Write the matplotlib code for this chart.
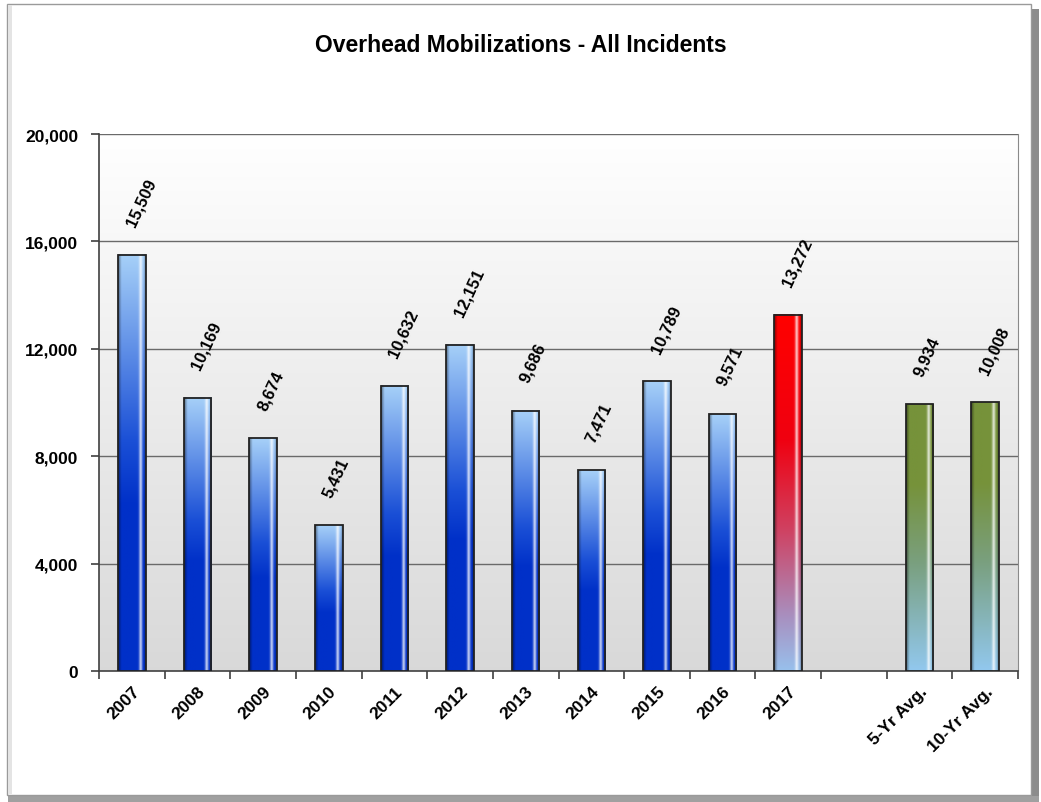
import numpy as np
import matplotlib
matplotlib.use("Agg")
import matplotlib.pyplot as plt
from matplotlib.patches import Rectangle
from matplotlib.colors import to_rgb

plt.rcParams['font.family'] = ['Liberation Sans', 'DejaVu Sans']

categories = ['2007', '2008', '2009', '2010', '2011', '2012', '2013', '2014',
              '2015', '2016', '2017', '', '5-Yr Avg.', '10-Yr Avg.']
values = [15509, 10169, 8674, 5431, 10632, 12151, 9686, 7471,
          10789, 9571, 13272, None, 9934, 10008]
labels = ['15,509', '10,169', '8,674', '5,431', '10,632', '12,151', '9,686', '7,471',
          '10,789', '9,571', '13,272', '', '9,934', '10,008']
kinds = ['blue'] * 10 + ['red', None, 'green', 'green']

title = 'Overhead Mobilizations - All Incidents'
yticks = [0, 4000, 8000, 12000, 16000, 20000]

# vertical gradient stops (position from top 0 -> bottom 1, color)
grads = {
    'blue': [(0.0, '#a6d0f8'), (0.45, '#1a4fd6'), (0.6, '#0030c8'), (1.0, '#0030c8')],
    'red': [(0.0, '#ff0000'), (0.35, '#f00010'), (0.6, '#d04060'), (0.85, '#a890c0'), (1.0, '#98c0ec')],
    'green': [(0.0, '#76923a'), (0.3, '#76923a'), (0.6, '#7aa080'), (1.0, '#92c8ee')],
}

def bar_image(kind, n=200, m=40):
    stops = grads[kind]
    pos = [s[0] for s in stops]
    cols = np.array([to_rgb(s[1]) for s in stops])
    t = np.linspace(0, 1, n)
    vert = np.stack([np.interp(t, pos, cols[:, k]) for k in range(3)], axis=1)
    img = np.repeat(vert[:, None, :], m, axis=1)
    u = np.linspace(0, 1, m)
    dark = np.clip(1 - 0.45 * np.clip((0.12 - u) / 0.12, 0, 1), 0, 1)
    img = img * dark[None, :, None]
    hl = np.exp(-((u - 0.82) / 0.06) ** 2) * 0.75
    img = img + (1 - img) * hl[None, :, None]
    edge = np.clip((u - 0.92) / 0.08, 0, 1) * 0.3
    img = img * (1 - edge[None, :, None])
    return np.clip(img, 0, 1)

W, H = 1041, 803
fig = plt.figure(figsize=(W / 100, H / 100), dpi=100)
fig.patch.set_facecolor('white')

# outer frame with shadow
fig.patches.append(Rectangle((1031 / W, 0.5 / H), 8 / W, (H - 10) / H, transform=fig.transFigure,
                             facecolor='#8c8c8c', edgecolor='none', zorder=0))
fig.patches.append(Rectangle((8 / W, 0.5 / H), 1031 / W, 6 / H, transform=fig.transFigure,
                             facecolor='#a0a0a0', edgecolor='none', zorder=0))
fig.patches.append(Rectangle((7 / W, 7 / H), 1024 / W, (H - 12) / H, transform=fig.transFigure,
                             facecolor='white', edgecolor='#9a9a9a', linewidth=1.0, zorder=0.5))
fig.patches.append(Rectangle((8 / W, 8 / H), 4 / W, (H - 14) / H, transform=fig.transFigure,
                             facecolor='#e4e4e4', edgecolor='none', zorder=0.6))

ax = fig.add_axes([99 / W, 1 - 672 / H, (1018 - 99) / W, (672 - 135) / H])
ax.set_zorder(2)
ax.patch.set_alpha(0)
n = len(categories)

# plot background gradient
bg = np.linspace(1.0, 0.85, 256)
bgimg = np.repeat(np.repeat(bg[:, None, None], 3, axis=2), 2, axis=1)
ax.imshow(bgimg, extent=[-0.5, n - 0.5, 0, 20000], aspect='auto', zorder=0, origin='upper')

for y in yticks[1:]:
    ax.axhline(y, color='#6a6a6a', linewidth=1.0, zorder=1)

bw = 0.42
for i, (v, k, lab) in enumerate(zip(values, kinds, labels)):
    if v is None:
        continue
    img = bar_image(k)
    ax.imshow(img, extent=[i - bw / 2, i + bw / 2, 0, v], aspect='auto', zorder=3,
              origin='upper', interpolation='bilinear')
    ax.add_patch(Rectangle((i - bw / 2, 0), bw, v, facecolor='none', edgecolor='#222222',
                           linewidth=1.3, zorder=4))
    ax.text(i - 0.02, v + 1100, lab, rotation=65, rotation_mode='anchor', ha='left', va='center',
            fontsize=12, fontweight='bold', color='black', zorder=5)

ax.set_xlim(-0.5, n - 0.5)
ax.set_ylim(0, 20000)
ax.set_yticks(yticks)
ax.set_yticklabels([f'{v:,}' for v in yticks])

ax.set_xticks(np.arange(n))
ax.set_xticklabels(categories, rotation=45, ha='right', rotation_mode='anchor',
                   fontsize=12.5, fontweight='bold')
ax.tick_params(axis='x', length=0, pad=9)
ax.set_xticks(np.arange(-0.5, n, 1.0), minor=True)
ax.tick_params(axis='x', which='minor', length=6, color='#404040', width=1.2)
ax.tick_params(axis='y', length=6, color='#404040', width=1.2, labelsize=12.5, pad=9)
for t in ax.get_yticklabels():
    t.set_fontweight('bold')

for s in ['left', 'bottom']:
    ax.spines[s].set_color('#404040')
    ax.spines[s].set_linewidth(1.2)
ax.spines['right'].set_color('#8a8a8a')
ax.spines['top'].set_visible(False)

fig.text(0.5, 1 - 45 / H, title, ha='center', va='center', fontsize=16.5, fontweight='bold')

fig.savefig('out.png', dpi=100, facecolor=fig.get_facecolor())
